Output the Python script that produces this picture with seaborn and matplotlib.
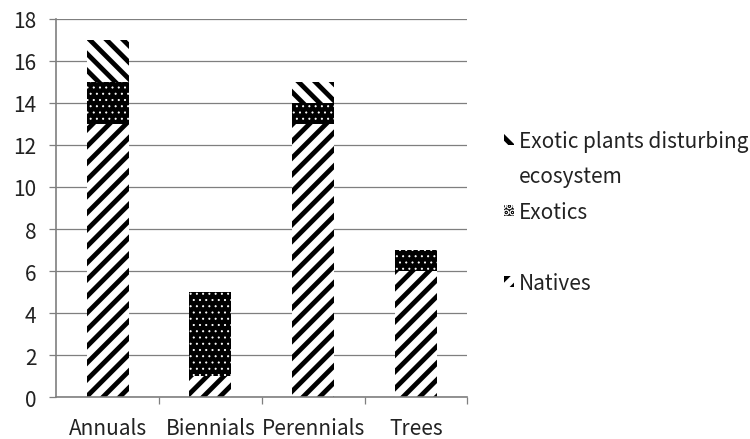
import matplotlib
matplotlib.use("Agg")
import matplotlib.pyplot as plt
from matplotlib.patches import Patch
import seaborn as sns
import pandas as pd

# Data
categories = ["Annuals", "Biennials", "Perennials", "Trees"]
natives = [13, 1, 13, 6]
exotics = [2, 4, 1, 1]
disturbing = [2, 0, 1, 0]

df = pd.DataFrame({"Type": categories, "Natives": natives,
                   "Exotics": exotics, "Disturbing": disturbing})
df["bottom_dist"] = df["Natives"] + df["Exotics"]

sns.set_style("white")
plt.rcParams["font.family"] = ["Noto Sans CJK KR", "DejaVu Sans"]
plt.rcParams["hatch.linewidth"] = 2.3

fig = plt.figure(figsize=(5, 440 / 150), dpi=150)
ax = fig.add_axes([0.075, 0.095, 0.548, 0.86])

w = 0.41
sns.barplot(data=df, x="Type", y="Natives", color="white", width=w,
            hatch="///", edgecolor="black", linewidth=0, ax=ax,
            label="Natives")
sns.barplot(data=df, x="Type", y="Exotics", bottom=df["Natives"], color="black",
            width=w, hatch="....", edgecolor="white", linewidth=0, ax=ax,
            label="Exotics")
sns.barplot(data=df, x="Type", y="Disturbing", bottom=df["bottom_dist"],
            color="white", width=w, hatch="\\\\\\", edgecolor="black",
            linewidth=0, ax=ax, label="Exotic plants disturbing")

# thinner hatch for the dotted layer so the dots stay solid
for p in ax.containers[1]:
    if hasattr(p, "set_hatch_linewidth"):
        p.set_hatch_linewidth(0.4)

ax.set_ylim(0, 18)
ax.set_xlim(-0.5, 3.5)
ax.set_yticks(range(0, 19, 2))
ax.yaxis.grid(True, color="#7f7f7f", linewidth=0.6)
ax.set_axisbelow(True)
ax.set_xlabel("")
ax.set_ylabel("")

for s in ["top", "right"]:
    ax.spines[s].set_visible(False)
for s in ["left", "bottom"]:
    ax.spines[s].set_color("#7f7f7f")
    ax.spines[s].set_linewidth(0.8)

ax.tick_params(axis="y", which="major", left=True, length=3.5, width=0.6,
               color="#7f7f7f", labelsize=10, labelcolor="#222222", pad=6)
ax.tick_params(axis="x", which="major", bottom=False, labelsize=10,
               labelcolor="#222222", pad=6)
ax.set_xticks([0.5, 1.5, 2.5, 3.5], minor=True)
ax.tick_params(axis="x", which="minor", bottom=True, length=3.5, width=0.6,
               color="#7f7f7f")

# legend rows: wrapped label and a blank row as in the original
handles, labels = ax.get_legend_handles_labels()
hmap = dict(zip(labels, handles))
blank = Patch(facecolor="none", edgecolor="none")
leg_handles = [hmap["Exotic plants disturbing"], blank, hmap["Exotics"],
               blank, hmap["Natives"]]
leg_labels = ["Exotic plants disturbing", "ecosystem", "Exotics", "", "Natives"]
leg = ax.legend(leg_handles, leg_labels, loc="center left",
                bbox_to_anchor=(1.045, 0.49), frameon=False, fontsize=10,
                handlelength=0.45, handleheight=0.45, handletextpad=0.25,
                labelspacing=0.65, labelcolor="#222222")

fig.savefig("out.png", dpi=150)
